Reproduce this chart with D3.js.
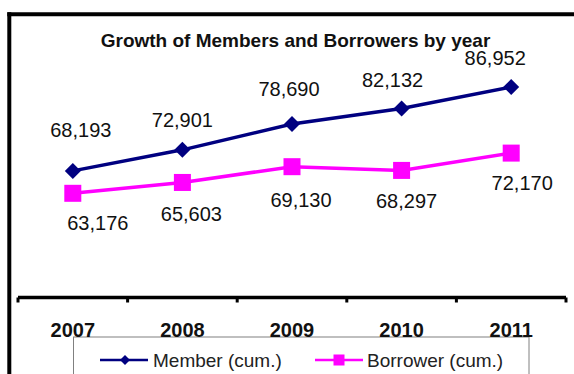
<!DOCTYPE html>
<html>
<head>
<meta charset="utf-8">
<script src="https://cdn.jsdelivr.net/npm/d3@7"></script>
<style>
  html, body { margin: 0; padding: 0; background: #fff; }
  svg { display: block; }
  text { font-family: "Liberation Sans", Arial, sans-serif; }
</style>
</head>
<body>
<svg id="chart" width="574" height="374"></svg>
<script>
// Yearly cumulative counts
const years = ["2007", "2008", "2009", "2010", "2011"];
const members = [68193, 72901, 78690, 82132, 86952];
const borrowers = [63176, 65603, 69130, 68297, 72170];

// Small per-label nudges [dx, dy] relative to each point
const memberLabelNudge = [[8, -34], [0, -23], [-3, -28], [-9, -22], [-16, -22]];
const borrowerLabelNudge = [[25, 37], [9, 39], [9, 40], [5, 38], [11, 37]];

const navy = "#000080";
const pink = "#FF00FF";

const svg = d3.select("#chart");
const fmt = d3.format(",");

const x = d3.scaleBand().domain(years).range([18, 566]).paddingInner(0).paddingOuter(0);
const cx = d => x(d) + x.bandwidth() / 2;
const y = d3.scaleLinear().domain([60000, 90000]).range([207.5, 73.4]);

// Outer frame (top and left edges)
svg.append("line").attr("x1", 7.3).attr("x2", 574).attr("y1", 14.3).attr("y2", 14.3)
  .attr("stroke", "#000").attr("stroke-width", 4);
svg.append("line").attr("x1", 9.3).attr("x2", 9.3).attr("y1", 12.3).attr("y2", 374)
  .attr("stroke", "#000").attr("stroke-width", 4);

// Title
svg.append("text").attr("x", 295.5).attr("y", 46.5).attr("text-anchor", "middle")
  .attr("font-size", 19).attr("font-weight", "bold").attr("fill", "#111")
  .text("Growth of Members and Borrowers by year");

// Category axis
const axisY = 297.5;
svg.append("line").attr("x1", x.range()[0]).attr("x2", x.range()[1])
  .attr("y1", axisY).attr("y2", axisY).attr("stroke", "#000").attr("stroke-width", 3.5);
const edges = years.map(d => x(d)).concat([x(years[years.length - 1]) + x.bandwidth()]);
svg.selectAll("line.tick").data(edges).enter().append("line").attr("class", "tick")
  .attr("x1", d => d).attr("x2", d => d).attr("y1", axisY).attr("y2", axisY + 5)
  .attr("stroke", "#000").attr("stroke-width", 3);

// Legend box (drawn before the year labels)
svg.append("rect").attr("x", 73.5).attr("y", 337).attr("width", 455.5).attr("height", 60)
  .attr("fill", "#fff").attr("stroke", "#808080").attr("stroke-width", 1);

const axis = d3.axisBottom(x).tickSize(0).tickPadding(0);
const gAxis = svg.append("g").attr("transform", `translate(0,${axisY})`).call(axis);
gAxis.select(".domain").remove();
gAxis.selectAll("text").attr("y", 39.2).attr("dy", null)
  .attr("font-size", 20).attr("font-weight", "bold").attr("fill", "#111")
  .attr("font-family", "\"Liberation Sans\", Arial, sans-serif");

// Lines
const line = vals => d3.line().x((d, i) => cx(years[i])).y(d => y(d))(vals);
svg.append("path").attr("d", line(members)).attr("fill", "none")
  .attr("stroke", navy).attr("stroke-width", 3.5);
svg.append("path").attr("d", line(borrowers)).attr("fill", "none")
  .attr("stroke", pink).attr("stroke-width", 3.5);

// Markers
const diamond = r => `M0,${-r}L${r},0L0,${r}L${-r},0Z`;
svg.selectAll("path.mem").data(members).enter().append("path").attr("class", "mem")
  .attr("d", diamond(8))
  .attr("transform", (d, i) => `translate(${cx(years[i])},${y(d)})`)
  .attr("fill", navy);
svg.selectAll("rect.bor").data(borrowers).enter().append("rect").attr("class", "bor")
  .attr("x", (d, i) => cx(years[i]) - 8.5).attr("y", d => y(d) - 8.5)
  .attr("width", 17).attr("height", 17).attr("fill", pink);

// Value labels
svg.selectAll("text.memLabel").data(members).enter().append("text").attr("class", "memLabel")
  .attr("x", (d, i) => cx(years[i]) + memberLabelNudge[i][0])
  .attr("y", (d, i) => y(d) + memberLabelNudge[i][1])
  .attr("text-anchor", "middle").attr("font-size", 20).attr("fill", "#111")
  .text(d => fmt(d));
svg.selectAll("text.borLabel").data(borrowers).enter().append("text").attr("class", "borLabel")
  .attr("x", (d, i) => cx(years[i]) + borrowerLabelNudge[i][0])
  .attr("y", (d, i) => y(d) + borrowerLabelNudge[i][1])
  .attr("text-anchor", "middle").attr("font-size", 20).attr("fill", "#111")
  .text(d => fmt(d));

// Legend entries
const legendY = 360;
const lg = svg.append("g");
lg.append("line").attr("x1", 100).attr("x2", 148).attr("y1", legendY).attr("y2", legendY)
  .attr("stroke", navy).attr("stroke-width", 2.5);
lg.append("path").attr("d", diamond(5)).attr("transform", `translate(125,${legendY})`).attr("fill", navy);
lg.append("text").attr("x", 153).attr("y", 366.7).attr("font-size", 19).attr("fill", "#222")
  .text("Member (cum.)");
lg.append("line").attr("x1", 315).attr("x2", 363).attr("y1", legendY).attr("y2", legendY)
  .attr("stroke", pink).attr("stroke-width", 2.5);
lg.append("rect").attr("x", 333.5).attr("y", legendY - 5.5).attr("width", 11).attr("height", 11).attr("fill", pink);
lg.append("text").attr("x", 367).attr("y", 366.7).attr("font-size", 19).attr("fill", "#222")
  .text("Borrower (cum.)");
</script>
</body>
</html>
